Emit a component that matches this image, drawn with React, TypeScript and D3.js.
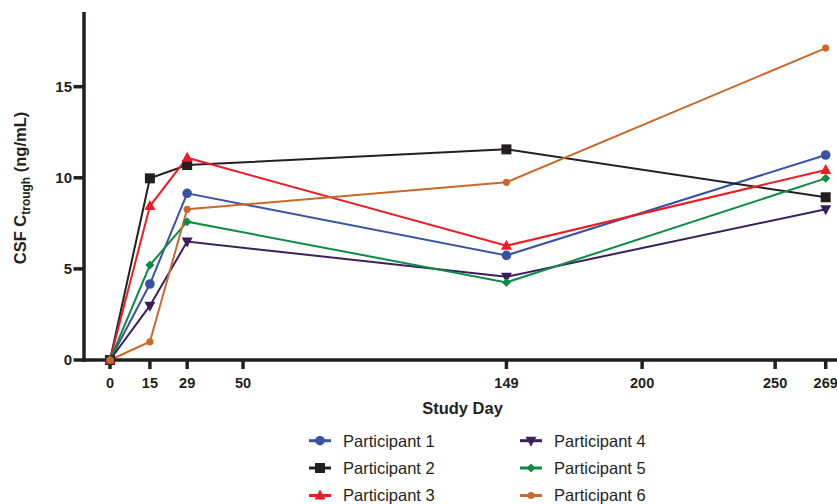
import React from "react";
import * as d3 from "d3";

const days = [0, 15, 29, 149, 269];
const xTicks = [0, 15, 29, 50, 149, 200, 250, 269];
const yTicks = [0, 5, 10, 15];
const names = ["Participant 1", "Participant 2", "Participant 3", "Participant 4", "Participant 5", "Participant 6"];
const p1 = [0, 4.17, 9.15, 5.74, 11.25];
const p2 = [0, 9.97, 10.7, 11.56, 8.93];
const p3 = [0, 8.45, 11.1, 6.27, 10.43];
const p4 = [0, 2.98, 6.5, 4.57, 8.27];
const p5 = [0, 5.21, 7.59, 4.26, 9.97];
const p6 = [0, 1.0, 8.27, 9.75, 17.12];
const seriesValues = [p1, p2, p3, p4, p5, p6];
const colors = ["#3953a4", "#231f20", "#ed1c24", "#3b1f5c", "#0f8a45", "#c8692b"];
const shapes = ["circle", "square", "triangle", "down", "diamond", "smallcircle"];

function Marker({ shape, x, y, color }: { shape: string; x: number; y: number; color: string }) {
  switch (shape) {
    case "circle":
      return <circle cx={x} cy={y} r={4.8} fill={color} />;
    case "smallcircle":
      return <circle cx={x} cy={y} r={3.6} fill={color} />;
    case "square":
      return <rect x={x - 5} y={y - 5} width={10} height={10} fill={color} />;
    case "triangle":
      return <path d={`M${x},${y - 6}L${x + 5.5},${y + 4}L${x - 5.5},${y + 4}Z`} fill={color} />;
    case "down":
      return <path d={`M${x},${y + 6}L${x + 5.5},${y - 4}L${x - 5.5},${y - 4}Z`} fill={color} />;
    case "diamond":
      return <path d={`M${x},${y - 4.5}L${x + 4.5},${y}L${x},${y + 4.5}L${x - 4.5},${y}Z`} fill={color} />;
  }
  return null;
}

export default function App() {
  const W = 837, H = 504;
  const x = d3.scaleLinear().domain([0, 269]).range([110, 825.7]);
  const y = d3.scaleLinear().domain([0, 19]).range([360, 13.8]);
  const x0 = 84;
  const line = d3.line<number>().x((_, i) => x(days[i])).y((v) => y(v));
  const font = "Liberation Sans, Arial, Helvetica, sans-serif";
  const ink = "#231f20";
  const legendCols = [309, 520];
  const legendRows = [440.7, 468, 495.5];

  return (
    <svg width={W} height={H} style={{ position: "absolute", left: 0, top: 0 }} fontFamily={font}>
      <rect width={W} height={H} fill="#fff" />
      {seriesValues.map((vals, s) => (
        <g key={s}>
          <path d={line(vals) || ""} fill="none" stroke={colors[s]} strokeWidth={2} />
        </g>
      ))}
      <line x1={x0} x2={x0} y1={12} y2={361.75} stroke={ink} strokeWidth={3.5} />
      <line x1={x0 - 1.75} x2={W} y1={360} y2={360} stroke={ink} strokeWidth={3.5} />
      {yTicks.map((t) => (
        <g key={t}>
          <line x1={x0 - 10.5} x2={x0} y1={y(t)} y2={y(t)} stroke={ink} strokeWidth={3.5} />
          <text x={x0 - 12} y={y(t)} dy="0.36em" textAnchor="end" fontSize={15} fontWeight="bold" fill={ink}>
            {t}
          </text>
        </g>
      ))}
      {xTicks.map((t) => (
        <g key={t}>
          <line x1={x(t)} x2={x(t)} y1={360} y2={369} stroke={ink} strokeWidth={3.5} />
          <text x={x(t)} y={387.5} textAnchor="middle" fontSize={14.5} fontWeight="bold" fill={ink}>
            {t}
          </text>
        </g>
      ))}
      <text x={462.5} y={414} textAnchor="middle" fontSize={16.5} fontWeight="bold" fill={ink}>
        Study Day
      </text>
      <text transform="translate(26,188) rotate(-90)" textAnchor="middle" fontSize={16.5} fontWeight="bold" fill={ink}>
        CSF C<tspan fontSize={12} dy={4}>trough</tspan>
        <tspan dy={-4}> (ng/mL)</tspan>
      </text>
      {seriesValues.map((vals, s) => (
        <g key={"m" + s}>
          {vals.map((v, i) => (
            <Marker key={i} shape={shapes[s]} x={x(days[i])} y={y(v)} color={colors[s]} />
          ))}
        </g>
      ))}
      {names.map((n, s) => {
        const lx = legendCols[Math.floor(s / 3)];
        const ly = legendRows[s % 3];
        return (
          <g key={n}>
            <line x1={lx} x2={lx + 22} y1={ly} y2={ly} stroke={colors[s]} strokeWidth={3} />
            <Marker shape={shapes[s]} x={lx + 11} y={ly} color={colors[s]} />
            <text x={lx + 34} y={ly} dy="0.36em" fontSize={16.5} fill={ink}>
              {n}
            </text>
          </g>
        );
      })}
    </svg>
  );
}
